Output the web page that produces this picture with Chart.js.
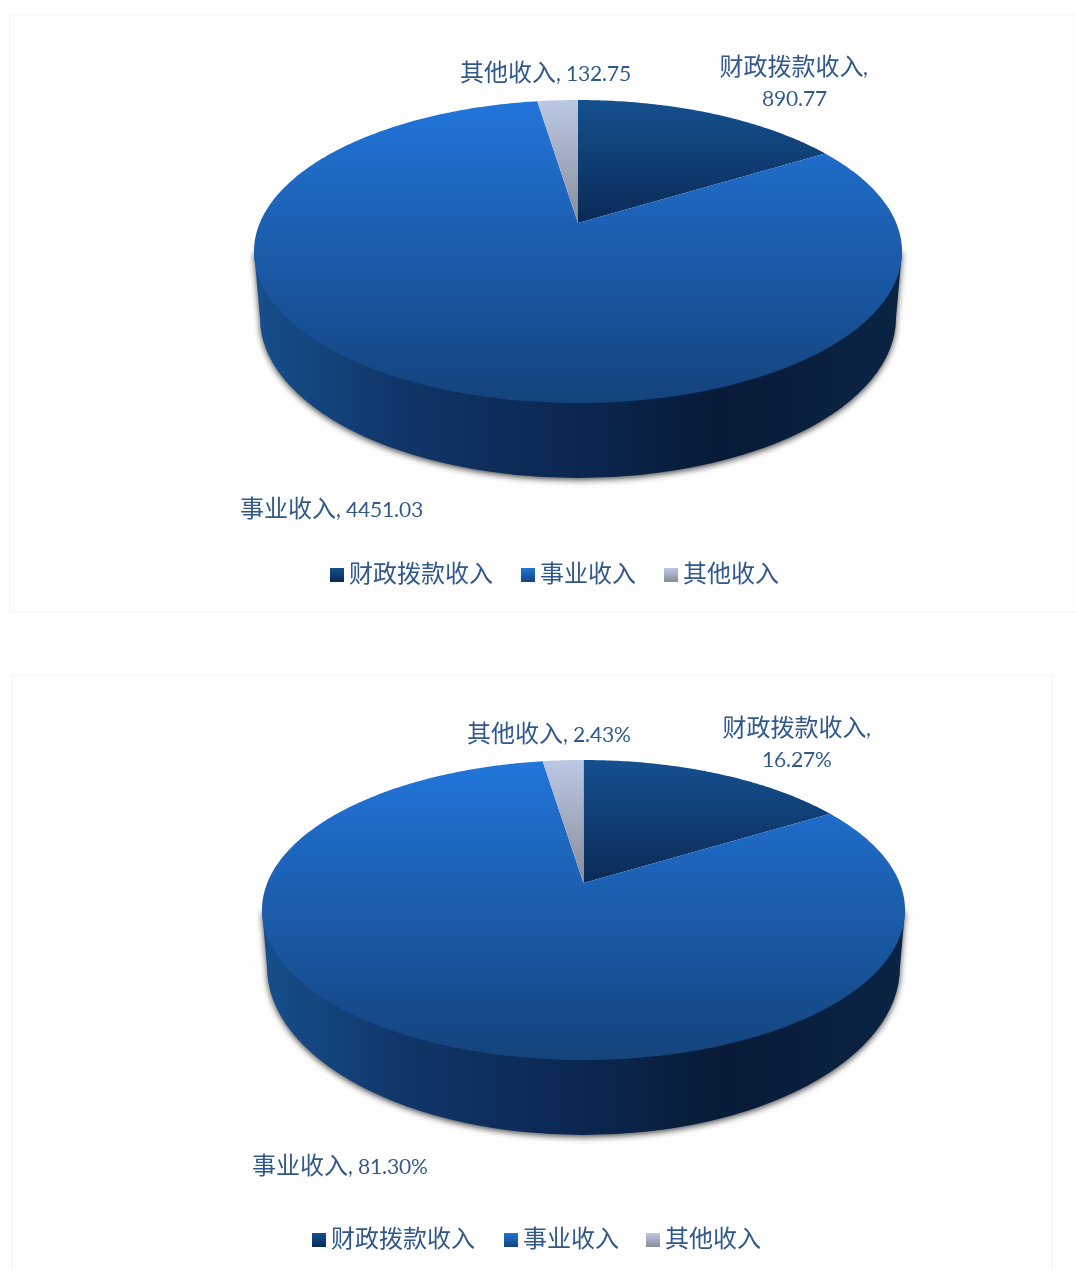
<!DOCTYPE html>
<html lang="zh">
<head>
<meta charset="utf-8">
<title>收入构成</title>
<script src="https://cdn.jsdelivr.net/npm/chart.js@4"></script>
<style>
@font-face{font-family:MixLatin;src:local("Lato"),local("Lato Regular");size-adjust:88.5%;unicode-range:U+20-7E;}
html,body{margin:0;padding:0;background:#fff;overflow:hidden;width:1076px;height:1271px;}
.card{position:absolute;box-sizing:border-box;background:#fefefe;border:2px solid #f8f9fb;}
canvas{position:absolute;left:-2px;top:-2px;}
#c1{left:9px;top:14px;width:1100px;height:599px;}
#c2{left:11px;top:674px;width:1042px;height:640px;}
</style>
</head>
<body>
<div class="card" id="c1"><canvas id="chartA"></canvas></div>
<div class="card" id="c2"><canvas id="chartB"></canvas></div>
<script>
const categories = ["财政拨款收入", "事业收入", "其他收入"];
const amountValues = [890.77, 4451.03, 132.75];
const shareValues = [16.27, 81.30, 2.43];

const sliceStops = [["#15508f", "#0a2a57"], ["#2275da", "#14437c"], ["#bcc9e5", "#878c98"]];
const wallStops = [[0, "#164f8c"], [0.22, "#103669"], [0.5, "#0b2750"], [0.72, "#081b38"], [0.9, "#0a2140"], [1, "#0b2444"]];
const FONT = '24px MixLatin, "Noto Sans CJK SC", sans-serif';
const TEXT = "#30588b";

function pie3d(layout) {
  const g = layout.geo, ox = layout.ox, oy = layout.oy;
  const up = g.apex - g.top, down = g.bottom - g.apex;
  const c = (up - down) / (up + down);
  const a = up * (1 - c);
  const d = g.rx * Math.sqrt(1 - c * c);
  const project = (ang) => {
    const t = ang + Math.PI / 2, u = Math.sin(t), v = -Math.cos(t), w = 1 + c * v;
    return [g.cx + d * u / w - ox, g.apex + a * v / w - oy];
  };
  return {
    id: "pie3d",
    beforeDatasetsDraw(chart) {
      const ctx = chart.ctx;
      ctx.save();
      // side wall
      const grad = ctx.createLinearGradient(g.cx - g.rx - ox, 0, g.cx + g.rx - ox, 0);
      wallStops.forEach(s => grad.addColorStop(s[0], s[1]));
      ctx.save();
      ctx.shadowColor = "rgba(0,0,0,0.7)";
      ctx.shadowBlur = 6;
      ctx.shadowOffsetY = 2;
      ctx.fillStyle = grad;
      ctx.beginPath();
      ctx.moveTo(g.cx - g.rx - ox, g.midY - oy);
      ctx.lineTo(g.cx - g.rx2 - ox, g.wallY - oy);
      ctx.ellipse(g.cx - ox, g.wallY - oy, g.rx2, g.wallBottom - g.wallY, 0, Math.PI, 0, true);
      ctx.lineTo(g.cx + g.rx - ox, g.midY - oy);
      ctx.closePath();
      ctx.fill();
      ctx.restore();
      // top face, from the library's arc angles
      const arcs = chart.getDatasetMeta(0).data;
      arcs.forEach((arc, i) => {
        const pts = [[g.cx - ox, g.apex - oy]];
        const n = Math.max(4, Math.ceil((arc.endAngle - arc.startAngle) * 80));
        for (let k = 0; k <= n; k++) pts.push(project(arc.startAngle + (arc.endAngle - arc.startAngle) * k / n));
        const ys = pts.map(p => p[1]);
        const gr = ctx.createLinearGradient(0, Math.min(...ys), 0, Math.max(...ys));
        gr.addColorStop(0, sliceStops[i][0]);
        gr.addColorStop(1, sliceStops[i][1]);
        ctx.fillStyle = gr;
        ctx.beginPath();
        pts.forEach((p, j) => j ? ctx.lineTo(p[0], p[1]) : ctx.moveTo(p[0], p[1]));
        ctx.closePath();
        ctx.fill();
      });
      ctx.restore();
      return false;
    },
    afterDraw(chart) {
      const ctx = chart.ctx;
      ctx.save();
      ctx.font = FONT;
      ctx.fillStyle = TEXT;
      ctx.textBaseline = "middle";
      ctx.textAlign = "left";
      const vals = chart.data.datasets[0].data;
      layout.labels.forEach((l, i) => {
        const text = categories[i] + ", " + vals[i].toFixed(2) + layout.suffix;
        if (l.wrap) {
          const cut = categories[i].length + 1;
          ctx.textAlign = "center";
          ctx.fillText(text.slice(0, cut), l.x - ox, l.y - oy);
          ctx.fillText(text.slice(cut + 1), l.x - ox, l.y2 - oy);
          ctx.textAlign = "left";
        } else {
          ctx.fillText(text, l.x - ox, l.y - oy);
        }
      });
      layout.legend.forEach((x, i) => {
        const y = layout.legendY - oy;
        const gr = ctx.createLinearGradient(0, y - 7, 0, y + 7);
        gr.addColorStop(0, sliceStops[i][0]);
        gr.addColorStop(1, sliceStops[i][1]);
        ctx.fillStyle = gr;
        ctx.fillRect(x - ox, y - 7, 14, 14);
        ctx.fillStyle = TEXT;
        ctx.fillText(chart.data.labels[i], x + 19 - ox, y);
      });
      ctx.restore();
    }
  };
}

function build(id, w, h, values, layout) {
  const cv = document.getElementById(id);
  cv.width = w; cv.height = h;
  cv.style.width = w + "px"; cv.style.height = h + "px";
  return new Chart(cv, {
    type: "pie",
    data: { labels: categories, datasets: [{ data: values, backgroundColor: sliceStops.map(s => s[0]), borderWidth: 0 }] },
    options: {
      responsive: false, animation: false, devicePixelRatio: 1,
      plugins: { legend: { display: false }, tooltip: { enabled: false } }
    },
    plugins: [pie3d(layout)]
  });
}

function init() {
  build("chartA", 1100, 599, amountValues, {
    ox: 9, oy: 14, suffix: "",
    geo: { cx: 578, rx: 324, top: 100, apex: 223, bottom: 403, midY: 251, rx2: 318, wallY: 318, wallBottom: 478 },
    labels: [{ x: 794, y: 68, y2: 99, wrap: true }, { x: 240, y: 510 }, { x: 460, y: 74 }],
    legend: [330, 521, 664], legendY: 575
  });
  build("chartB", 1042, 640, shareValues, {
    ox: 11, oy: 674, suffix: "%",
    geo: { cx: 583.5, rx: 321.5, top: 760, apex: 883, bottom: 1060, midY: 910, rx2: 316.5, wallY: 967, wallBottom: 1135 },
    labels: [{ x: 797, y: 729, y2: 760, wrap: true }, { x: 252, y: 1167 }, { x: 467, y: 735 }],
    legend: [312, 504, 646], legendY: 1240
  });
}
document.fonts.load('24px MixLatin', '0123').then(init, init);
</script>
</body>
</html>
